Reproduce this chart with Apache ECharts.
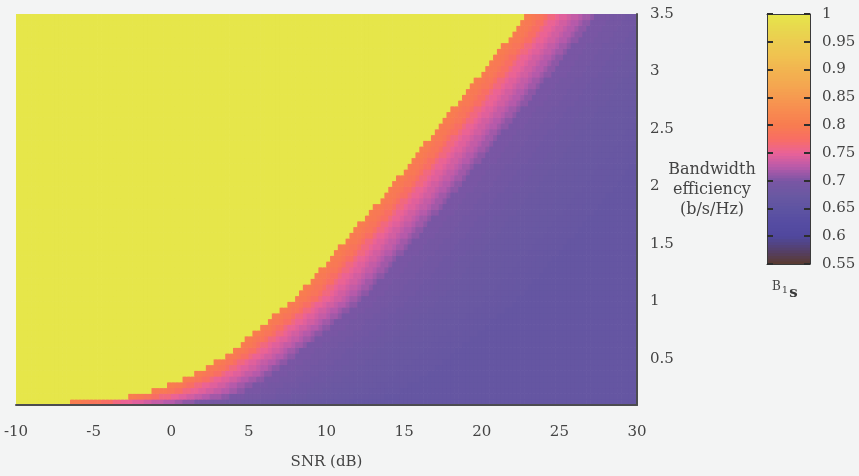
<!DOCTYPE html>
<html>
<head>
<meta charset="utf-8">
<script src="https://cdn.jsdelivr.net/npm/echarts@6/dist/echarts.min.js"></script>
<style>
  html, body { margin: 0; padding: 0; background: #f3f4f4; }
  #chart { width: 859px; height: 476px; }
</style>
</head>
<body>
<div id="chart"></div>
<script>
// Axis ticks
const snrTicks = [-10, -5, 0, 5, 10, 15, 20, 25, 30];
const effTicks = [0.5, 1, 1.5, 2, 2.5, 3, 3.5];
const scaleTicks = [0.55, 0.6, 0.65, 0.7, 0.75, 0.8, 0.85, 0.9, 0.95, 1];

// Cell grid: SNR columns of 0.25 dB, efficiency rows of 0.05 b/s/Hz from 0.1 up
const snrStep = 0.25, snrStart = -10, snrCount = 160;
const effStep = 0.05, effStart = 0.1, effCount = 68;

// SNR (dB) at which each efficiency row leaves the B = 1 region (row 0 = 0.125 b/s/Hz)
const yellowEdge = [
  -6.5, -2.8, -1.25, -0.27, 0.7, 1.5, 2.2, 2.8, 3.4, 3.95,
  4.4, 4.85, 5.3, 5.75, 6.2, 6.6, 7.05, 7.5, 7.95, 8.3,
  8.6, 8.95, 9.25, 9.6, 9.9, 10.2, 10.55, 10.85, 11.15, 11.5,
  11.8, 12.1, 12.45, 12.75, 13.1, 13.4, 13.7, 14.0, 14.3, 14.6,
  14.9, 15.2, 15.5, 15.8, 16.1, 16.35, 16.65, 16.95, 17.25, 17.55,
  17.85, 18.1, 18.4, 18.7, 19.0, 19.3, 19.6, 19.9, 20.2, 20.5,
  20.75, 21.05, 21.35, 21.65, 21.95, 22.25, 22.5, 22.8
];
// Width (dB) of the falling band that follows the edge, per row
const bandWidth = [
  8.0, 6.5, 6.0, 5.5, 5.2, 5.0, 4.8, 4.6, 4.5, 4.4,
  4.4, 4.4, 4.4, 4.4, 4.4, 4.4, 4.4, 4.4, 4.4, 4.4,
  4.4, 4.4, 4.4, 4.4, 4.4, 4.4, 4.4, 4.4, 4.4, 4.4,
  4.4, 4.4, 4.4, 4.4, 4.4, 4.4, 4.4, 4.4, 4.4, 4.4,
  4.4, 4.4, 4.4, 4.4, 4.4, 4.4, 4.4, 4.4, 4.4, 4.4,
  4.4, 4.4, 4.5, 4.5, 4.5, 4.5, 4.5, 4.5, 4.5, 4.5,
  4.5, 4.5, 4.5, 4.5, 4.5, 4.5, 4.5, 4.5
];
// B values across the band (equal slices of its width)
const bandProfile = [0.80, 0.795, 0.788, 0.775, 0.762, 0.752, 0.745, 0.738, 0.731, 0.724, 0.716, 0.708];
// B values past the band, one per dB
const tailProfile = [0.698, 0.692, 0.687, 0.683, 0.679, 0.676, 0.674, 0.672, 0.67, 0.668];
const tailFar = 0.665;

// Colour scale of B, stops every 0.025 from 0.55 to 1
const scaleColors = [
  '#5a3a2e', '#54406a', '#50489e', '#564ca2', '#5e54a2', '#6a58a2', '#7a56a4',
  '#b85aaa', '#ea6298', '#f86e64', '#f87c50', '#f88a50', '#f69a50', '#f4a850',
  '#f2b450', '#f0c250', '#eccc50', '#e8d84e', '#e6e64a'
];

function cellValue(snr, row) {
  const off = snr - yellowEdge[row];
  if (off < 0) return 1;
  const w = bandWidth[row];
  if (off < w) return bandProfile[Math.floor(off / w * bandProfile.length)];
  const k = Math.floor(off - w);
  return k < tailProfile.length ? tailProfile[k] : tailFar;
}

// [snr centre, efficiency centre, B]
const heat = [];
for (let j = 0; j < effCount; j++) {
  const eff = effStart + effStep * (j + 0.5);
  for (let i = 0; i < snrCount; i++) {
    const snr = snrStart + snrStep * (i + 0.5);
    heat.push([snr, eff, cellValue(snr, j)]);
  }
}

// Colour bar levels
const barStep = 0.005;
const barData = [];
for (let v = 0; v < 90; v++) {
  const lv = 0.55 + barStep * (v + 0.5);
  barData.push([0.5, lv, lv]);
}

// Cells are drawn a hair larger than their pitch so no seams show between them
function cellRenderer(stepX, stepY) {
  return function (params, api) {
    const c = api.coord([api.value(0), api.value(1)]);
    const s = api.size([stepX, stepY]);
    return {
      type: 'rect',
      shape: { x: c[0] - s[0] / 2 - 0.35, y: c[1] - s[1] / 2 - 0.35, width: s[0] + 0.7, height: s[1] + 0.7 },
      style: { fill: api.visual('color') }
    };
  };
}

const font = 'DejaVu Serif';
const txt = '#444444';
const frame = { show: true, onZero: false, lineStyle: { color: '#4c4c50', width: 2 } };
const barEdge = { show: true, onZero: false, lineStyle: { color: '#3a3a3a', width: 1 } };
const barTick = { show: true, inside: true, length: 6, lineStyle: { color: '#2e2e2e', width: 2 } };

const chart = echarts.init(document.getElementById('chart'), null, { renderer: 'canvas' });
chart.setOption({
  backgroundColor: '#f3f4f4',
  animation: false,
  grid: [
    { left: 16, top: 14, width: 621, height: 391 },
    { left: 767, top: 14, width: 43, height: 250 }
  ],
  xAxis: [
    {
      type: 'value', gridIndex: 0, min: -10, max: 30, interval: 5, position: 'bottom', z: 10,
      axisLine: frame, axisTick: { show: false }, splitLine: { show: false },
      axisLabel: { color: txt, fontFamily: font, fontSize: 15, margin: 20 },
      name: 'SNR (dB)', nameLocation: 'middle', nameGap: 50,
      nameTextStyle: { color: txt, fontFamily: font, fontSize: 15 }
    },
    { type: 'value', gridIndex: 1, min: 0, max: 1, position: 'bottom', z: 10,
      axisLine: barEdge, axisTick: { show: false }, axisLabel: { show: false }, splitLine: { show: false } },
    { type: 'value', gridIndex: 1, min: 0, max: 1, position: 'top', z: 10,
      axisLine: barEdge, axisTick: { show: false }, axisLabel: { show: false }, splitLine: { show: false } }
  ],
  yAxis: [
    {
      type: 'value', gridIndex: 0, min: 0.1, max: 3.5, interval: 0.5, position: 'right', z: 10,
      axisLine: frame, axisTick: { show: false }, splitLine: { show: false },
      axisLabel: { color: txt, fontFamily: font, fontSize: 15, margin: 13, customValues: effTicks }
    },
    {
      type: 'value', gridIndex: 1, min: 0.55, max: 1, interval: 0.05, position: 'right', z: 10,
      axisLine: barEdge, axisTick: barTick, splitLine: { show: false },
      axisLabel: {
        color: txt, fontFamily: font, fontSize: 15, margin: 12,
        customValues: scaleTicks, formatter: v => String(+v.toFixed(2))
      }
    },
    {
      type: 'value', gridIndex: 1, min: 0.55, max: 1, interval: 0.05, position: 'left', z: 10,
      axisLine: barEdge, axisTick: barTick, splitLine: { show: false }, axisLabel: { show: false }
    }
  ],
  visualMap: {
    type: 'continuous', show: false, min: 0.55, max: 1, dimension: 2,
    seriesIndex: [0, 1], inRange: { color: scaleColors }
  },
  series: [
    {
      type: 'custom', xAxisIndex: 0, yAxisIndex: 0, data: heat,
      encode: { x: 0, y: 1 }, progressive: 0, clip: true, silent: true,
      renderItem: cellRenderer(snrStep, effStep)
    },
    {
      type: 'custom', xAxisIndex: 1, yAxisIndex: 1, data: barData,
      encode: { x: 0, y: 1 }, progressive: 0, clip: true, silent: true,
      renderItem: cellRenderer(1, barStep)
    }
  ],
  graphic: [
    {
      type: 'text', x: 712, y: 160,
      style: {
        text: 'Bandwidth\nefficiency\n(b/s/Hz)', align: 'center',
        fill: txt, font: '16px "DejaVu Serif"', lineHeight: 20
      }
    },
    {
      type: 'text', x: 772, y: 276,
      style: {
        text: '{b|B}{s|1}{t|s}',
        rich: {
          b: { fontFamily: font, fontSize: 12, fill: txt, padding: [0, 1, 4, 0] },
          s: { fontFamily: font, fontSize: 10, fill: txt, padding: [4, 0, 0, 0] },
          t: { fontFamily: font, fontSize: 15, fontWeight: 'bold', fill: '#3a3a3a', padding: [10, 0, 0, 1] }
        }
      }
    }
  ]
});
</script>
</body>
</html>
